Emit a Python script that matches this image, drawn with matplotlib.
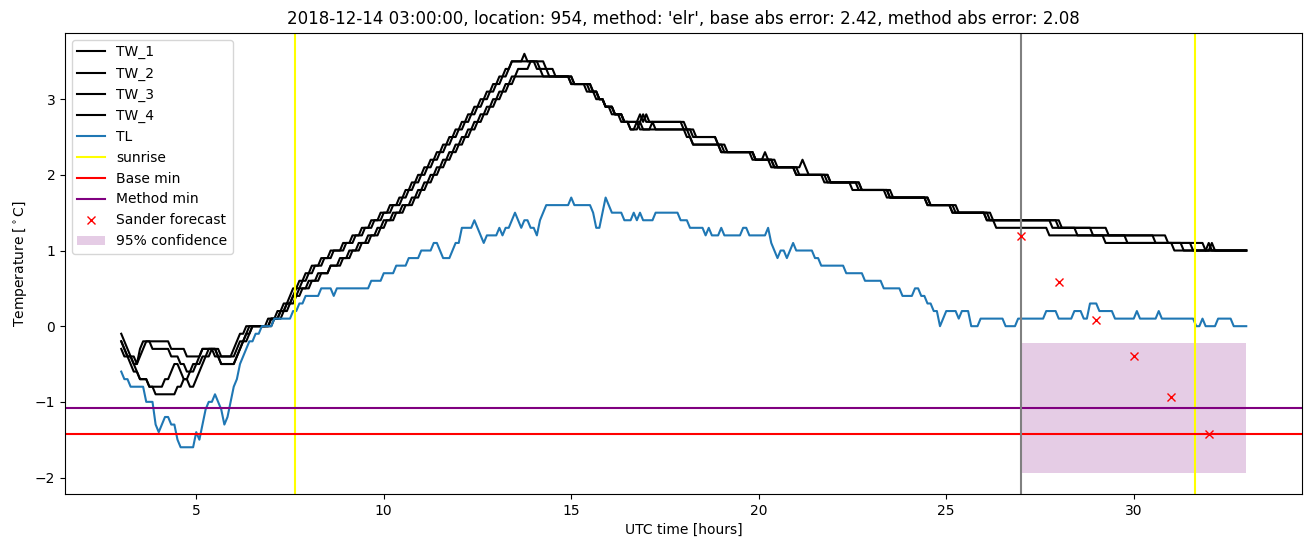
import numpy as np
import matplotlib
matplotlib.use('Agg')
import matplotlib.pyplot as plt

# 5-minute samples from 03:00 (day 1) to 09:00 (day 2), hours since 00 UTC
t = 3 + np.arange(361) / 12

# (hour when the value starts, value)
tw1 = [(3.0,-0.1),(3.08,-0.2),(3.17,-0.3),(3.25,-0.4),(3.42,-0.5),(3.5,-0.3),(3.58,-0.2),
       (4.33,-0.3),(4.75,-0.4),(5.17,-0.3),(5.58,-0.4),(6.0,-0.3),(6.08,-0.2),(6.17,-0.1),
       (6.33,0.0),(6.92,0.1),(7.17,0.2),(7.33,0.3),(7.5,0.4),(7.58,0.5),(7.75,0.6),(7.92,0.7),
       (8.08,0.8),(8.33,0.9),(8.58,1.0),(8.92,1.1),(9.17,1.2),(9.42,1.3),(9.67,1.4),(9.92,1.5),
       (10.17,1.6),(10.42,1.7),(10.58,1.8),(10.75,1.9),(10.92,2.0),(11.08,2.1),(11.25,2.2),
       (11.42,2.3),(11.58,2.4),(11.75,2.5),(11.92,2.6),(12.08,2.7),(12.25,2.8),(12.42,2.9),
       (12.58,3.0),(12.75,3.1),(12.92,3.2),(13.08,3.3),(13.25,3.4),(13.42,3.5),(13.75,3.6),
       (13.83,3.5),(14.17,3.4),(14.25,3.3),(15.08,3.2),(15.5,3.1),(15.75,3.0),(15.92,2.9),
       (16.17,2.8),(16.42,2.7),(16.83,2.8),(16.92,2.7),(17.0,2.8),(17.08,2.7),(18.0,2.6),
       (18.25,2.5),(18.92,2.4),(19.08,2.3),(19.92,2.2),(20.17,2.3),(20.25,2.2),(20.42,2.1),
       (21.17,2.2),(21.25,2.1),(21.33,2.0),(21.92,1.9),(22.67,1.8),(23.5,1.7),(24.58,1.6),
       (25.25,1.5),(26.25,1.4),(28.0,1.3),(28.92,1.2),(30.58,1.1),(31.58,1.0),(32.0,1.1),
       (32.08,1.0)]
tw2 = [(3.0,-0.2),(3.08,-0.3),(3.17,-0.4),(3.33,-0.5),(3.5,-0.4),(3.58,-0.3),(3.67,-0.2),
       (3.83,-0.3),(4.33,-0.4),(4.58,-0.5),(4.75,-0.6),(4.92,-0.5),(5.08,-0.4),(5.17,-0.3),
       (5.58,-0.4),(5.67,-0.5),(6.08,-0.4),(6.17,-0.3),(6.25,-0.2),(6.33,-0.1),(6.42,0.0),
       (7.0,0.1),(7.25,0.2),(7.42,0.3),(7.58,0.4),(7.67,0.5),(7.83,0.6),(8.0,0.7),(8.17,0.8),
       (8.42,0.9),(8.67,1.0),(9.0,1.1),(9.25,1.2),(9.5,1.3),(9.75,1.4),(10.0,1.5),(10.25,1.6),
       (10.5,1.7),(10.67,1.8),(10.83,1.9),(11.0,2.0),(11.17,2.1),(11.33,2.2),(11.5,2.3),
       (11.67,2.4),(11.83,2.5),(12.0,2.6),(12.17,2.7),(12.33,2.8),(12.5,2.9),(12.67,3.0),
       (12.83,3.1),(13.0,3.2),(13.17,3.3),(13.33,3.4),(13.42,3.5),(14.33,3.4),(14.42,3.3),
       (15.0,3.2),(15.58,3.1),(15.67,3.0),(15.92,2.9),(16.17,2.8),(16.42,2.7),(16.92,2.8),
       (17.0,2.7),(18.08,2.6),(18.33,2.5),(18.92,2.4),(19.0,2.3),(19.83,2.2),(20.33,2.1),
       (21.0,2.0),(21.75,1.9),(22.5,1.8),(23.42,1.7),(24.5,1.6),(25.17,1.5),(26.08,1.4),
       (27.83,1.3),(28.5,1.2),(29.83,1.1),(31.33,1.0)]
tw3 = [(3.0,-0.3),(3.08,-0.4),(3.25,-0.5),(3.33,-0.6),(3.5,-0.7),(3.75,-0.8),(4.17,-0.7),
       (4.33,-0.6),(4.42,-0.5),(4.58,-0.6),(4.67,-0.7),(4.83,-0.8),(5.0,-0.7),(5.08,-0.6),
       (5.17,-0.5),(5.25,-0.4),(5.42,-0.3),(5.67,-0.4),(6.08,-0.3),(6.17,-0.2),(6.33,-0.1),
       (6.5,0.0),(7.08,0.1),(7.33,0.2),(7.5,0.3),(7.67,0.4),(7.83,0.5),(8.08,0.6),(8.33,0.7),
       (8.58,0.8),(8.83,0.9),(9.08,1.0),(9.33,1.1),(9.58,1.2),(9.83,1.3),(10.0,1.4),
       (10.25,1.5),(10.5,1.6),(10.75,1.7),(10.92,1.8),(11.08,1.9),(11.25,2.0),(11.42,2.1),
       (11.58,2.2),(11.75,2.3),(11.92,2.4),(12.08,2.5),(12.25,2.6),(12.42,2.7),(12.58,2.8),
       (12.75,2.9),(12.92,3.0),(13.08,3.1),(13.25,3.2),(13.42,3.3),(13.58,3.4),(13.92,3.5),
       (14.08,3.4),(14.58,3.3),(15.08,3.2),(15.58,3.1),(15.75,3.0),(15.92,2.9),(16.08,2.8),
       (16.33,2.7),(16.58,2.6),(16.83,2.7),(16.92,2.6),(17.17,2.7),(17.25,2.6),(18.08,2.5),
       (18.25,2.4),(19.17,2.3),(19.92,2.2),(20.5,2.1),(21.08,2.0),(21.83,1.9),(22.75,1.8),
       (23.58,1.7),(24.58,1.6),(25.33,1.5),(26.17,1.4),(28.08,1.3),(29.33,1.2),(30.92,1.1),
       (31.92,1.0),(32.08,1.1),(32.17,1.0)]
tw4 = [(3.0,-0.2),(3.08,-0.3),(3.17,-0.4),(3.33,-0.5),(3.42,-0.6),(3.5,-0.7),(3.75,-0.8),
       (3.92,-0.9),(4.5,-0.8),(4.67,-0.7),(4.83,-0.6),(5.0,-0.5),(5.17,-0.4),(5.33,-0.3),
       (5.5,-0.4),(5.7,-0.5),(6.08,-0.4),(6.17,-0.3),(6.25,-0.2),(6.42,-0.1),(6.5,0.0),
       (7.0,0.1),(7.25,0.2),(7.42,0.3),(7.58,0.4),(7.75,0.5),(8.0,0.6),(8.25,0.7),(8.58,0.8),
       (8.92,0.9),(9.17,1.0),(9.42,1.1),(9.67,1.2),(9.92,1.3),(10.08,1.4),(10.33,1.5),
       (10.58,1.6),(10.83,1.7),(11.0,1.8),(11.17,1.9),(11.33,2.0),(11.5,2.1),(11.67,2.2),
       (11.83,2.3),(12.0,2.4),(12.17,2.5),(12.33,2.6),(12.5,2.7),(12.67,2.8),(12.83,2.9),
       (13.0,3.0),(13.17,3.1),(13.33,3.2),(13.5,3.3),(15.0,3.2),(15.42,3.1),(15.75,3.0),
       (15.92,2.9),(16.17,2.8),(16.42,2.7),(16.58,2.6),(16.75,2.7),(16.83,2.6),(18.17,2.5),
       (18.25,2.4),(19.0,2.3),(19.92,2.2),(20.42,2.1),(21.0,2.0),(21.92,1.9),(22.75,1.8),
       (23.5,1.7),(24.5,1.6),(25.17,1.5),(26.08,1.4),(26.33,1.3),(27.75,1.2),(29.25,1.1),
       (31.08,1.0)]
tl = [(3.0,-0.6),(3.08,-0.7),(3.25,-0.8),(3.67,-1.0),(3.92,-1.3),(4.0,-1.4),(4.08,-1.3),
      (4.17,-1.2),(4.33,-1.3),(4.5,-1.5),(4.58,-1.6),(5.0,-1.4),(5.08,-1.5),(5.17,-1.3),
      (5.25,-1.1),(5.33,-1.0),(5.5,-0.9),(5.58,-1.0),(5.67,-1.1),(5.75,-1.3),(5.83,-1.2),
      (5.92,-1.0),(6.0,-0.8),(6.08,-0.7),(6.17,-0.5),(6.25,-0.4),(6.33,-0.3),(6.42,-0.2),
      (6.58,-0.1),(6.75,0.0),(7.08,0.1),(7.58,0.2),(7.75,0.3),(7.92,0.4),(8.33,0.5),
      (8.67,0.4),(8.75,0.5),(9.67,0.6),(10.0,0.7),(10.33,0.8),(10.67,0.9),(11.0,1.0),
      (11.33,1.1),(11.5,1.0),(11.58,0.9),(11.83,1.0),(11.92,1.1),(12.08,1.3),(12.42,1.4),
      (12.5,1.3),(12.58,1.2),(12.67,1.1),(12.75,1.2),(13.08,1.3),(13.17,1.2),(13.25,1.3),
      (13.42,1.4),(13.5,1.5),(13.58,1.4),(13.67,1.3),(13.75,1.4),(13.92,1.3),(14.08,1.2),
      (14.17,1.4),(14.25,1.5),(14.33,1.6),(15.0,1.7),(15.08,1.6),(15.58,1.5),(15.67,1.3),
      (15.83,1.5),(15.92,1.7),(16.0,1.6),(16.08,1.5),(16.42,1.4),(16.67,1.5),(16.75,1.4),
      (16.83,1.5),(16.92,1.4),(17.25,1.5),(17.92,1.4),(18.17,1.3),(18.58,1.2),(18.67,1.3),
      (18.75,1.2),(19.0,1.3),(19.08,1.2),(19.58,1.3),(19.75,1.2),(20.25,1.3),(20.33,1.1),
      (20.42,1.0),(20.5,0.9),(20.58,1.0),(20.75,0.9),(20.83,1.0),(20.92,1.1),(21.0,1.0),
      (21.5,0.9),(21.67,0.8),(22.33,0.7),(22.83,0.6),(23.33,0.5),(23.83,0.4),(24.17,0.5),
      (24.33,0.4),(24.5,0.3),(24.67,0.2),(24.83,0.0),(24.92,0.1),(25.0,0.2),(25.33,0.1),
      (25.42,0.2),(25.67,0.0),(25.92,0.1),(26.58,0.0),(26.92,0.1),(27.67,0.2),(28.0,0.1),
      (28.42,0.2),(28.67,0.1),(28.83,0.3),(29.08,0.2),(29.5,0.1),(30.08,0.2),(30.17,0.1),
      (30.67,0.2),(30.75,0.1),(31.67,0.0),(31.83,0.1),(31.92,0.0),(32.25,0.1),(32.67,0.0)]

sunrise = [7.63, 31.63]
base_min = -1.42
method_min = -1.08
forecast_start = 27
sander_hours = [27, 28, 29, 30, 31, 32]
sander_temp = [1.19, 0.58, 0.08, -0.40, -0.94, -1.42]
conf_low = -1.94
conf_high = -0.22
conf_end = 33


def expand(changes):
    # hold each read value until the next change, on the 5-min grid
    out = np.empty(len(t))
    for i, (h, v) in enumerate(changes):
        k = int(round((h - 3) * 12))
        out[k:] = v
    return out


fig, ax = plt.subplots(figsize=(13.13, 5.47), dpi=100)
fig.subplots_adjust(left=0.0495, right=0.992, top=0.94, bottom=0.097)

for name, series in [('TW_1', tw1), ('TW_2', tw2), ('TW_3', tw3), ('TW_4', tw4)]:
    ax.plot(t, expand(series), color='black', label=name)
ax.plot(t, expand(tl), label='TL')

ax.axvline(sunrise[0], color='yellow', label='sunrise')
ax.axvline(sunrise[1], color='yellow')
ax.axhline(base_min, color='red', label='Base min')
ax.axhline(method_min, color='purple', label='Method min')
ax.axvline(forecast_start, color='grey')
ax.plot(sander_hours, sander_temp, 'x', color='red', label='Sander forecast')
ax.fill_between([forecast_start, conf_end], conf_low, conf_high, color='purple',
                alpha=0.2, linewidth=0, label='95% confidence')

ax.set_title("2018-12-14 03:00:00, location: 954, method: 'elr', base abs error: 2.42, "
             "method abs error: 2.08")
ax.set_xlabel('UTC time [hours]')
ax.set_ylabel(r'Temperature [$^\circ$C]')
ax.legend(loc='upper left')

plt.savefig('out.png')
